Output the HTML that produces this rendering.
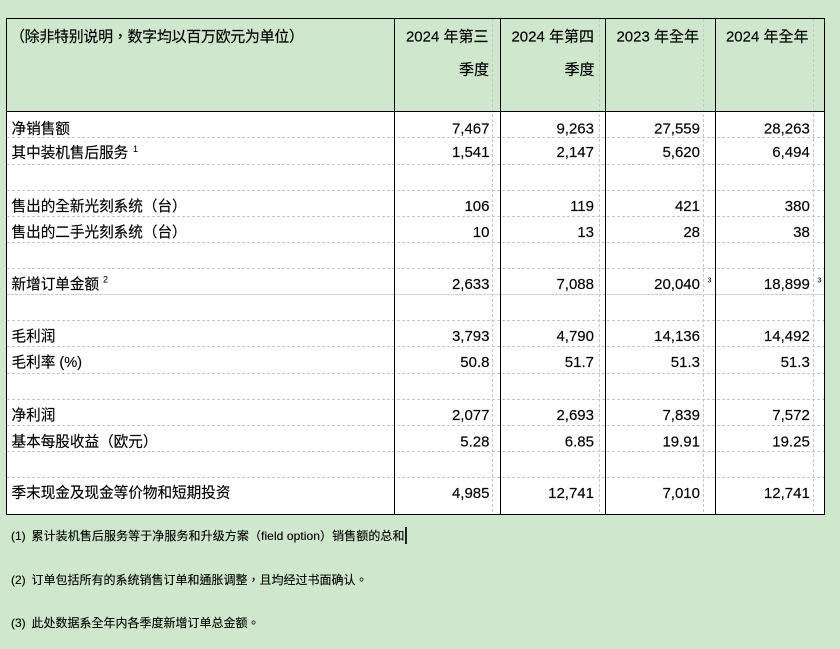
<!DOCTYPE html>
<html>
<head>
<meta charset="utf-8">
<style>
html,body{margin:0;padding:0;background:#cfe7cd;}
svg{display:block;}
text{font-family:"Liberation Sans","Noto Sans CJK TC","Noto Sans CJK SC",sans-serif;fill:#000;stroke:#000;stroke-width:0.15px;}
.l{font-size:14.6px;}
.n{font-size:15px;}
.h{font-size:15px;}
.f{font-size:12px;stroke-width:0.12px;}
.s{font-size:9px;stroke-width:0.05px;}
.ss{font-size:7px;stroke-width:0.05px;}
</style>
</head>
<body>
<svg width="840" height="649" viewBox="0 0 840 649" xmlns="http://www.w3.org/2000/svg">
<rect x="0" y="0" width="840" height="649" fill="#cfe7cd"/>
<rect x="6" y="111" width="818" height="403" fill="#ffffff"/>

<g stroke="#c8c8c8" stroke-width="1" stroke-dasharray="3,2" fill="none">
<line x1="7" y1="137.5" x2="824" y2="137.5"/>
<line x1="7" y1="164.5" x2="824" y2="164.5"/>
<line x1="7" y1="190.5" x2="824" y2="190.5"/>
<line x1="7" y1="216.5" x2="824" y2="216.5"/>
<line x1="7" y1="242.5" x2="824" y2="242.5"/>
<line x1="7" y1="268.5" x2="824" y2="268.5"/>
<line x1="7" y1="320.5" x2="824" y2="320.5"/>
<line x1="7" y1="346.5" x2="824" y2="346.5"/>
<line x1="7" y1="373.5" x2="824" y2="373.5"/>
<line x1="7" y1="399.5" x2="824" y2="399.5"/>
<line x1="7" y1="425.5" x2="824" y2="425.5"/>
<line x1="7" y1="451.5" x2="824" y2="451.5"/>
<line x1="7" y1="477.5" x2="824" y2="477.5"/>
</g>
<line x1="7" y1="294.5" x2="824" y2="294.5" stroke="#bcd2ba" stroke-width="1" stroke-dasharray="3,1"/>

<g stroke="#c8c8c8" stroke-width="1" stroke-dasharray="3,2" fill="none">
<line x1="492.5" y1="19" x2="492.5" y2="514"/>
<line x1="599.5" y1="19" x2="599.5" y2="514"/>
<line x1="703.5" y1="19" x2="703.5" y2="514"/>
<line x1="813.5" y1="19" x2="813.5" y2="514"/>
</g>

<g stroke="#000" stroke-width="1" fill="none">
<rect x="6.5" y="18.5" width="818" height="496"/>
<line x1="394.5" y1="18" x2="394.5" y2="515"/>
<line x1="500.5" y1="18" x2="500.5" y2="515"/>
<line x1="605.5" y1="18" x2="605.5" y2="515"/>
<line x1="715.5" y1="18" x2="715.5" y2="515"/>
<line x1="6" y1="111.5" x2="825" y2="111.5"/>
</g>

<text class="h" x="10" y="41.5" textLength="294" lengthAdjust="spacing">（除非特别说明，数字均以百万欧元为单位）</text>
<text class="h" x="488.5" y="41.5" text-anchor="end">2024 年第三</text>
<text class="h" x="489" y="74.5" text-anchor="end">季度</text>
<text class="h" x="594" y="41.5" text-anchor="end">2024 年第四</text>
<text class="h" x="594.5" y="74.5" text-anchor="end">季度</text>
<text class="h" x="699" y="41.5" text-anchor="end">2023 年全年</text>
<text class="h" x="808.5" y="41.5" text-anchor="end">2024 年全年</text>

<text class="l" x="11.5" y="133.5">净销售额</text>
<text class="l" x="11.5" y="157.5">其中装机售后服务</text>
<text class="s" x="133" y="152">1</text>
<text class="l" x="11.5" y="211">售出的全新光刻系统（台）</text>
<text class="l" x="11.5" y="237">售出的二手光刻系统（台）</text>
<text class="l" x="11.5" y="289">新增订单金额</text>
<text class="s" x="103" y="282.5">2</text>
<text class="l" x="11.5" y="341">毛利润</text>
<text class="l" x="11.5" y="367">毛利率 (%)</text>
<text class="l" x="11.5" y="420">净利润</text>
<text class="l" x="11.5" y="446.5">基本每股收益（欧元）</text>
<text class="l" x="11.5" y="497.5">季末现金及现金等价物和短期投资</text>

<g>
<text class="n" x="489.5" y="133.5" text-anchor="end">7,467</text>
<text class="n" x="489.5" y="157" text-anchor="end">1,541</text>
<text class="n" x="489.5" y="211" text-anchor="end">106</text>
<text class="n" x="489.5" y="237" text-anchor="end">10</text>
<text class="n" x="489.5" y="289" text-anchor="end">2,633</text>
<text class="n" x="489.5" y="341" text-anchor="end">3,793</text>
<text class="n" x="489.5" y="367" text-anchor="end">50.8</text>
<text class="n" x="489.5" y="420" text-anchor="end">2,077</text>
<text class="n" x="489.5" y="446.5" text-anchor="end">5.28</text>
<text class="n" x="489.5" y="498" text-anchor="end">4,985</text>

<text class="n" x="594" y="133.5" text-anchor="end">9,263</text>
<text class="n" x="594" y="157" text-anchor="end">2,147</text>
<text class="n" x="594" y="211" text-anchor="end">119</text>
<text class="n" x="594" y="237" text-anchor="end">13</text>
<text class="n" x="594" y="289" text-anchor="end">7,088</text>
<text class="n" x="594" y="341" text-anchor="end">4,790</text>
<text class="n" x="594" y="367" text-anchor="end">51.7</text>
<text class="n" x="594" y="420" text-anchor="end">2,693</text>
<text class="n" x="594" y="446.5" text-anchor="end">6.85</text>
<text class="n" x="594" y="498" text-anchor="end">12,741</text>

<text class="n" x="700" y="133.5" text-anchor="end">27,559</text>
<text class="n" x="700" y="157" text-anchor="end">5,620</text>
<text class="n" x="700" y="211" text-anchor="end">421</text>
<text class="n" x="700" y="237" text-anchor="end">28</text>
<text class="n" x="700" y="289" text-anchor="end">20,040</text>
<text class="n" x="700" y="341" text-anchor="end">14,136</text>
<text class="n" x="700" y="367" text-anchor="end">51.3</text>
<text class="n" x="700" y="420" text-anchor="end">7,839</text>
<text class="n" x="700" y="446.5" text-anchor="end">19.91</text>
<text class="n" x="700" y="498" text-anchor="end">7,010</text>

<text class="n" x="809.8" y="133.5" text-anchor="end">28,263</text>
<text class="n" x="809.8" y="157" text-anchor="end">6,494</text>
<text class="n" x="809.8" y="211" text-anchor="end">380</text>
<text class="n" x="809.8" y="237" text-anchor="end">38</text>
<text class="n" x="809.8" y="289" text-anchor="end">18,899</text>
<text class="n" x="809.8" y="341" text-anchor="end">14,492</text>
<text class="n" x="809.8" y="367" text-anchor="end">51.3</text>
<text class="n" x="809.8" y="420" text-anchor="end">7,572</text>
<text class="n" x="809.8" y="446.5" text-anchor="end">19.25</text>
<text class="n" x="809.8" y="498" text-anchor="end">12,741</text>
</g>
<text class="ss" x="707.5" y="282.5">3</text>
<text class="ss" x="817.5" y="282.5">3</text>

<text class="f" x="11" y="540">(1)</text>
<text class="f" x="31.5" y="540" textLength="373" lengthAdjust="spacing">累计装机售后服务等于净服务和升级方案（field option）销售额的总和</text>
<rect x="405" y="527" width="2" height="17" fill="#222"/>
<text class="f" x="11" y="584">(2)</text>
<text class="f" x="31.5" y="584">订单包括所有的系统销售订单和通胀调整，且均经过书面确认。</text>
<text class="f" x="11" y="627">(3)</text>
<text class="f" x="31.5" y="627">此处数据系全年内各季度新增订单总金额。</text>
</svg>
</body>
</html>
